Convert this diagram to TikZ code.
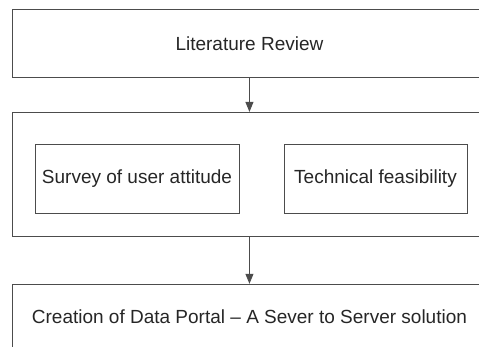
\documentclass[tikz,border=0pt]{standalone}
\usepackage{fontspec}
\setmainfont{Liberation Sans}
\usetikzlibrary{positioning, arrows.meta}

\begin{document}
\begin{tikzpicture}[
    x=1pt, y=1pt,
    stage/.style={rectangle, draw=black!70, line width=0.9pt, minimum width=474pt, inner sep=0pt, text=black!85, font=\fontsize{19}{22}\selectfont},
    task/.style={rectangle, draw=black!70, line width=0.9pt, minimum height=69pt, inner sep=0pt, text=black!85, font=\fontsize{19}{22}\selectfont},
    flow/.style={draw=black!70, line width=0.9pt, -{Triangle[width=8pt,length=10pt]}}
]
\useasboundingbox (0,0) rectangle (479,-347);
\clip (0,0) rectangle (479,-347);

\node[stage, minimum height=68pt, anchor=north west] (litrev) at (12,-9) {Literature Review};
\node[stage, minimum height=124pt, below=34pt of litrev] (study) {};
\node[task, minimum width=204pt] (survey) at (137,-178.5) {Survey of user attitude};
\node[task, minimum width=183pt] (feasible) at (375.5,-178.5) {Technical feasibility};
\node[stage, minimum height=64pt, below=47pt of study] (portal) {Creation of Data Portal – A Sever to Server solution};

\draw[flow] (litrev) -- (study);
\draw[flow] (study) -- (portal);

\end{tikzpicture}
\end{document}
